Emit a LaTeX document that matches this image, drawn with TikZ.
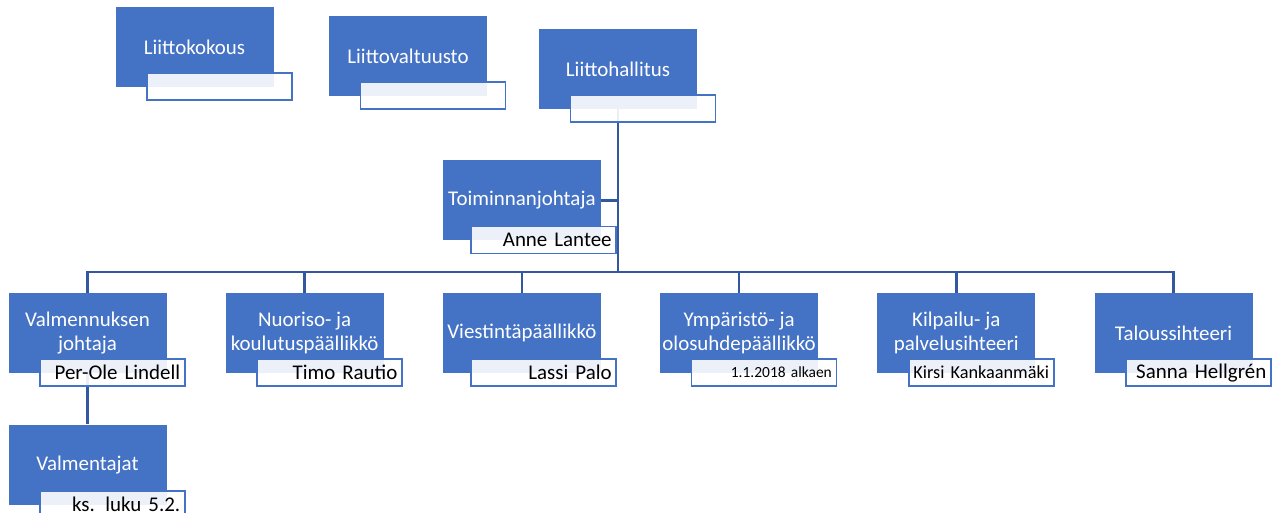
\documentclass[tikz,border=0pt]{standalone}
\usepackage{fontspec}
\setmainfont{Carlito}
\usetikzlibrary{positioning,backgrounds}
\definecolor{orgblue}{RGB}{68,114,196}
\definecolor{linkblue}{RGB}{52,88,160}
\tikzstyle{unit}=[rectangle,fill=orgblue,text=white,minimum width=118.5pt,minimum height=60pt,
                  inner sep=0pt,align=center,font=\fontsize{15.7}{17.5}\selectfont]
\tikzstyle{holder}=[rectangle,draw=orgblue,line width=1.3pt,fill=white,fill opacity=0.9,text opacity=1,
                    minimum height=20.25pt,inner xsep=3.5pt,inner ysep=0pt,text width=101.75pt,
                    align=right,anchor=north east,font=\fontsize{15.7}{17.5}\selectfont]
\tikzstyle{link}=[draw=linkblue,line width=2pt]

\begin{document}
\begin{tikzpicture}[x=0.75pt,y=-0.75pt]
  \useasboundingbox (0,0) rectangle (1274,513);

  % upper level
  \node[unit] (kokous)    at (194.5,47) {Liittokokous};
  \node[unit] (valtuusto) at (408,56)   {Liittovaltuusto};
  \node[unit] (hallitus)  at (618,69)   {Liittohallitus};

  % staff row
  \node[unit] (vjohtaja)              at (87.5,333)          {Valmennuksen\\johtaja};
  \node[unit] (nuoriso)     [right=44pt of vjohtaja]  {Nuoriso- ja\\koulutuspäällikkö};
  \node[unit] (viestinta)   [right=44pt of nuoriso]   {Viestintäpäällikkö};
  \node[unit] (ymparisto)   [right=44pt of viestinta] {Ympäristö- ja\\olosuhdepäällikkö};
  \node[unit] (kilpailu)    [right=44pt of ymparisto] {Kilpailu- ja\\palvelusihteeri};
  \node[unit] (talous)      [right=44pt of kilpailu]  {Taloussihteeri};
  \node[unit] (tjohtaja)    [above=39pt of viestinta] {Toiminnanjohtaja};
  \node[unit] (valmentajat) [below=38.25pt of vjohtaja] {Valmentajat};

  % name boxes
  \node[holder] (kokousN)    at ([xshift=14.25pt,yshift=11.25pt]kokous.south east)    {};
  \node[holder] (valtuustoN) at ([xshift=14.25pt,yshift=11.25pt]valtuusto.south east) {};
  \node[holder] (hallitusN)  at ([xshift=14.25pt,yshift=11.25pt]hallitus.south east)  {};
  \node[holder] (tjohtajaN)  at ([xshift=12pt,yshift=11.25pt]tjohtaja.south east)     {Anne Lantee};
  \node[holder] (vjohtajaN)  at ([xshift=14.25pt,yshift=11.25pt]vjohtaja.south east)  {Per-Ole Lindell};
  \node[holder] (nuorisoN)   at ([xshift=14.25pt,yshift=11.25pt]nuoriso.south east)   {Timo Rautio};
  \node[holder] (viestintaN) at ([xshift=12pt,yshift=11.25pt]viestinta.south east)    {Lassi Palo};
  \node[holder,font=\fontsize{11.6}{13}\selectfont]
                (ymparistoN) at ([xshift=14.25pt,yshift=11.25pt]ymparisto.south east) {1.1.2018 alkaen};
  \node[holder,font=\fontsize{13.7}{15}\selectfont]
                (kilpailuN)  at ([xshift=14.25pt,yshift=11.25pt]kilpailu.south east)  {Kirsi Kankaanmäki};
  \node[holder] (talousN)    at ([xshift=14.25pt,yshift=11.25pt]talous.south east)    {Sanna Hellgrén};
  \node[holder] (valmentajatN) at ([xshift=14.25pt,yshift=11.25pt]valmentajat.south east) {ks. luku 5.2.};

  % connectors behind the boxes
  \begin{scope}[on background layer]
    \coordinate (bus) at (hallitus.south |- 0,272);
    \draw[link] (hallitus.south) -- (bus);
    \draw[link] (tjohtaja.east) -- (tjohtaja.east -| bus);
    \foreach \unit in {vjohtaja,nuoriso,viestinta,ymparisto,kilpailu,talous}
      \draw[link] (bus) -| (\unit.north);
    \draw[link] (vjohtaja.south) -- (valmentajat.north);
  \end{scope}
\end{tikzpicture}
\end{document}
